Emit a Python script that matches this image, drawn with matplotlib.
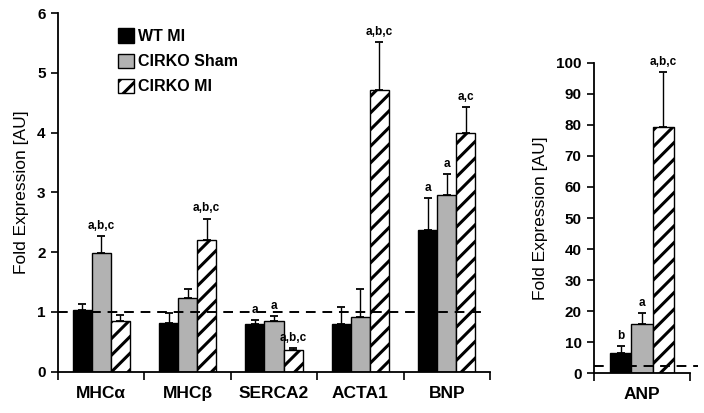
import numpy as np
import matplotlib
matplotlib.use("Agg")
import matplotlib.pyplot as plt
from matplotlib.patches import Patch

plt.rcParams['font.family'] = ['Liberation Sans', 'DejaVu Sans']
plt.rcParams['hatch.linewidth'] = 2.2

# Data
genes = ['MHCα', 'MHCβ', 'SERCA2', 'ACTA1', 'BNP']
wt_mi = [1.03, 0.82, 0.79, 0.79, 2.37]
wt_mi_sem = [0.10, 0.17, 0.08, 0.29, 0.54]
sham = [1.98, 1.24, 0.85, 0.91, 2.96]
sham_sem = [0.29, 0.14, 0.08, 0.47, 0.34]
ko_mi = [0.85, 2.20, 0.37, 4.71, 4.00]
ko_mi_sem = [0.10, 0.36, 0.03, 0.81, 0.42]
wt_mi_sig = ['', '', 'a', '', 'a']
sham_sig = ['a,b,c', '', 'a', '', 'a']
ko_mi_sig = ['', 'a,b,c', 'a,b,c', 'a,b,c', 'a,c']

anp_gene = ['ANP']
anp_vals = [6.4, 15.9, 79.4]
anp_sem = [2.5, 3.4, 17.7]
anp_sig = ['b', 'a', 'a,b,c']

series_names = ['WT MI', 'CIRKO Sham', 'CIRKO MI']
colors = ['black', '#b2b2b2', 'white']
hatches = [None, None, '//']

fig = plt.figure(figsize=(7.04, 4.13), dpi=100)
ax = fig.add_axes([0.0824, 0.100, 0.6136, 0.8685])
ax2 = fig.add_axes([0.8438, 0.0961, 0.1364, 0.752])

width = 0.22
offsets = [-width, 0, width]


def draw_group(axis, x, vals, sems, sigs, i):
    axis.bar(x + offsets[i], vals, width, color=colors[i], edgecolor='black',
             linewidth=1, hatch=hatches[i],
             yerr=[np.zeros(len(vals)), sems],
             error_kw=dict(ecolor='black', elinewidth=1, capsize=3, capthick=1.3))
    for xi, v, s, lab in zip(x + offsets[i], vals, sems, sigs):
        if lab:
            axis.annotate(lab, (xi, v + s), xytext=(0, 3), textcoords='offset points',
                          ha='center', va='bottom', fontsize=8.5, fontweight='bold')


x = np.arange(len(genes))
for i, (vals, sems, sigs) in enumerate([(wt_mi, wt_mi_sem, wt_mi_sig),
                                        (sham, sham_sem, sham_sig),
                                        (ko_mi, ko_mi_sem, ko_mi_sig)]):
    draw_group(ax, x, vals, sems, sigs, i)

ax.plot([-0.5, 4.4], [1, 1], color='black', lw=1.4, dashes=(5, 3.5), zorder=5)

# ANP panel
xa = np.array([0.0])
for i in range(3):
    draw_group(ax2, xa, [anp_vals[i]], [anp_sem[i]], [anp_sig[i]], i)
ax2.plot([-0.5, 0.58], [2.5, 2.5], color='black', lw=1.4, dashes=(5, 3.5),
         zorder=5, clip_on=False)

for a, n, top, step in [(ax, len(genes), 6, 1), (ax2, 1, 100, 10)]:
    a.set_xlim(-0.5, n - 0.5)
    a.set_ylim(0, top)
    a.set_yticks(np.arange(0, top + 1, step))
    for s in ['top', 'right']:
        a.spines[s].set_visible(False)
    for s in ['left', 'bottom']:
        a.spines[s].set_linewidth(1.3)
    a.set_xticks(np.arange(n))
    a.set_xticks(np.arange(n + 1) - 0.5, minor=True)
    a.tick_params(axis='x', which='major', length=0, pad=10, labelsize=12.5)
    a.tick_params(axis='x', which='minor', length=6, width=1.2, direction='out')
    a.tick_params(axis='y', length=5, width=1.2, direction='out', labelsize=11, pad=4)
    a.set_ylabel('Fold Expression [AU]', fontsize=12.5, labelpad=6)

ax.set_xticklabels(genes)
ax2.set_xticklabels(anp_gene)
for a in (ax, ax2):
    for t in a.get_xticklabels() + a.get_yticklabels():
        t.set_fontweight('bold')

handles = [Patch(facecolor=colors[i], edgecolor='black', hatch=hatches[i])
           for i in range(3)]
leg = ax.legend(handles, series_names, loc='upper left', bbox_to_anchor=(0.125, 0.975),
                frameon=False, handlelength=1.0, handleheight=1.0,
                handletextpad=0.2, labelspacing=0.6, borderaxespad=0,
                prop=dict(size=11.5, weight='bold'))

fig.savefig('out.png', dpi=100)
